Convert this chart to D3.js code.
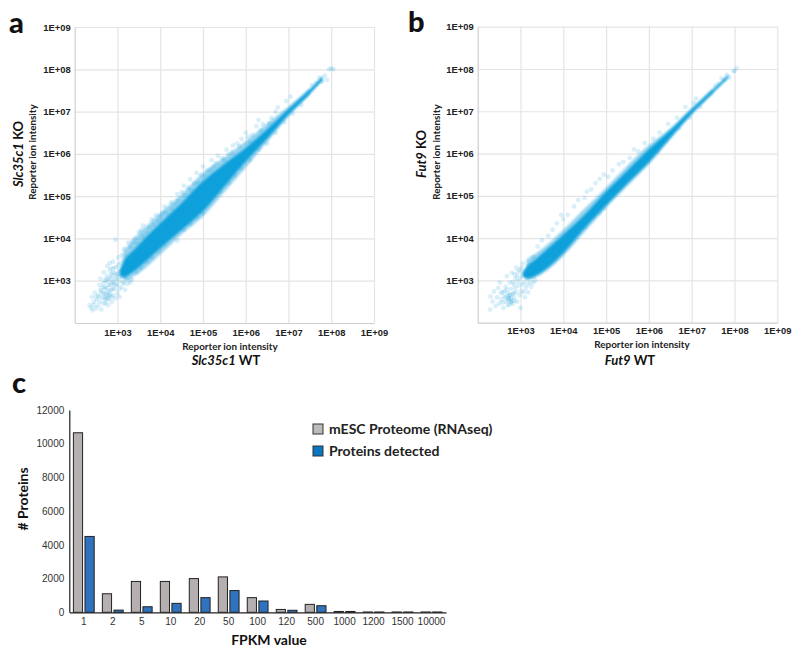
<!DOCTYPE html>
<html>
  <head>
    <title>Reporter ion intensity</title>
    <meta charset="utf-8">
    <style>
      body { margin: 0; background-color: white; }
      svg { display: block; font-family: Lato, sans-serif; }
      .scatter text { font-size: 9.4px; font-weight: 700; fill: #222; }
      .scatter .grid line { stroke: #e4e4e4; stroke-width: 1.2; }
      .scatter .grid path { stroke: none; }
      .scatter .frame path { stroke: #cfcfcf; stroke-width: 1.2; fill: none; }
      .scatter .frame line { stroke: none; }
      .scatter text.title { font-size: 13px; font-weight: 700; fill: #111; }
      .scatter text.sub { font-size: 9.9px; font-weight: 700; fill: #222; }
      .letter { font-size: 29px; font-weight: 900; fill: #111; }
      .bars .axis text { font-size: 10px; fill: #333; }
      .bars .axis path { stroke: #222; stroke-width: 1.2; }
      .bars .axis line { stroke: none; }
      .legend { font-size: 14px; font-weight: 700; fill: #222; }
      .barTitle { font-size: 14px; font-weight: 700; fill: #111; }
    </style>
  </head>
  <body>
  <svg id="chart" width="800" height="656"></svg>
  <script src="https://d3js.org/d3.v7.min.js"></script>
  <script>
  // scatter values are log10 intensities
  var exponents = [3, 4, 5, 6, 7, 8, 9];

  // dense core of each cloud: [log x, upper log y, lower log y]
  var coreA = [[3.05,3.25,3.12],[3.14,3.45,3.08],[3.375,3.72,3.22],[4,4.36,3.77],[4.5,4.84,4.2],[5,5.35,4.64],[5.5,5.76,5.23],[6,6.14,5.82],[6.5,6.58,6.36],[7,7.06,6.93],[7.5,7.53,7.42],[7.8,7.84,7.74]];
  var coreB = [[3.05,3.2,3.1],[3.15,3.33,3.05],[3.375,3.52,3.13],[4,4.08,3.65],[4.5,4.55,4.24],[5,5.1,4.78],[5.5,5.6,5.3],[6,6.1,5.8],[6.5,6.55,6.38],[7,7.05,6.95],[7.5,7.52,7.44],[7.85,7.86,7.78]];
  // paler fringe around the core, same layout
  var fringeA = [[3.14,3.7,3],[3.375,3.98,3.1],[4,4.6,3.62],[4.5,5.05,4.1],[5,5.55,4.52],[5.5,5.92,5.1],[6,6.3,5.68],[6.5,6.72,6.28],[7,7.12,6.88],[7.5,7.56,7.4]];
  var fringeB = [[3.14,3.5,3],[3.375,3.65,3.08],[4,4.2,3.58],[4.5,4.7,4.15],[5,5.2,4.72],[5.5,5.72,5.24],[6,6.2,5.75],[6.5,6.6,6.34],[7,7.08,6.92],[7.5,7.55,7.42]];

  var pointsA = [
    [2.35,2.42],[2.38,2.36],[2.42,2.3],[2.45,2.5],[2.4,2.62],[2.47,2.72],[2.5,2.35],[2.52,2.55],[2.55,2.42],[2.55,2.66],[2.58,2.9],[2.6,2.5],[2.62,2.74],[2.62,2.32],[2.65,2.6],[2.65,2.85],[2.68,2.45],[2.7,2.7],[2.7,3],[2.72,2.55],[2.72,2.8],[2.75,2.62],[2.75,3.1],[2.78,2.42],[2.78,2.72],[2.8,2.9],[2.8,2.56],[2.82,3.25],[2.83,2.66],[2.85,2.78],[2.85,3.05],[2.87,2.5],[2.88,2.95],[2.9,2.65],[2.9,3.2],[2.9,3.45],[2.93,2.8],[2.95,3.05],[2.95,2.58],[2.97,3.32],[3,2.9],[3,2.7],[3,3.15],[3.02,3.55],[3.05,3],[3.05,2.62],[3.08,3.25],[3.1,2.85],[3.1,3.6],[3.12,3.1],[3.15,2.95],[3.15,3.75],[3.18,2.78],[3.2,3.05],[3.22,2.92],[3.25,3.9],[2.95,3.97],[2.76,3.35],[2.68,3.2],[2.6,3.05],[2.74,2.68],[2.7,2.6],[2.78,2.58],[2.66,2.7],[2.72,2.48],[2.82,2.76],[2.76,2.84],[2.86,2.62],[2.8,3.05],[2.92,2.92],[2.84,3.15],[2.98,3.12],[3.04,3.2],[2.92,3.3],
    [2.82,3.42],[2.88,3.12],[2.94,3.18],[2.9,2.98],[2.96,2.9],[2.84,2.9],[2.78,2.98],[2.86,3.3],[2.7,2.84],[2.58,2.62],[2.5,2.62],[2.44,2.42],[2.6,2.78],[3.02,3.38],[3.08,3.42],[3.14,3.5],[3.2,3.58],[3.05,2.8],[3.12,2.95],[3.25,3],[3.3,2.95],[3.34,3.02],[2.68,2.94],[2.74,3.02],[3.06,3.1],[2.98,3.02],[2.9,2.82],[2.8,2.66],
    [3.3,3.8],[3.4,4],[3.5,4.15],[3.6,4.05],[3.6,4.3],[3.75,4.25],[3.8,4.45],[3.9,4.55],[3.95,4.4],[4.05,4.6],[4.1,4.75],[4.2,4.55],[4.25,4.85],[4.35,4.8],[4.4,5.05],[4.5,5.1],[4.55,5.25],[4.65,5.2],[4.7,5.4],[4.8,5.3],[4.85,5.55],[4.95,5.5],[5,5.7],[5.1,5.6],[5.2,5.85],[5.25,5.7],[5.35,5.95],[5.45,5.9],[5.55,6.1],[5.6,6],[5.7,6.2],[5.8,6.25],[5.9,6.35],[6,6.5],[6.05,6.4],[6.15,6.45],[6.25,6.65],[6.3,6.8],[6.4,6.7],[6.6,6.85],[6.7,7],[6.75,7.1],[6.95,7.25],[7.05,7.35],
    [3.35,3.92],[3.45,3.88],[3.55,4.2],[3.7,4.12],[3.85,4.32],[4,4.52],[4.12,4.62],[4.28,4.7],[4.42,4.88],[4.58,5.02],[4.72,5.15],[4.88,5.32],[5.05,5.48],[5.18,5.62],[5.3,5.78],[5.5,5.85],[5.68,6.05],[5.85,6.18],[6.1,6.28],[6.35,6.55],[6.55,6.72],
    [3.3,3.05],[3.45,3.2],[3.55,3.3],[3.7,3.45],[3.8,3.55],[3.95,3.7],[4.1,3.85],[4.3,4.05],[4.4,3.95],[4.55,4.2],[4.7,4.35],[4.85,4.5],[5,4.6],[5.1,4.85],[5.25,5],[5.4,5.1],[5.6,5.3],[5.75,5.5],[5.9,5.65],[6.1,5.85],[6.3,6.1],[6.5,6.25],[6.7,6.5],[6.9,6.75],[7.1,6.95],[7.3,7.15],
    [7.55,7.62],[7.65,7.68],[7.72,7.8],[7.78,7.7],[7.85,7.85],[7.9,7.75],[7.95,8],[8,8.02],[8.05,8]
  ];
  var pointsB = [
    [2.29,2.31],[2.3,2.62],[2.35,2.5],[2.38,2.74],[2.42,2.4],[2.45,2.6],[2.48,2.82],[2.5,2.45],[2.52,2.95],[2.55,2.55],[2.58,2.72],[2.6,2.35],[2.62,2.62],[2.65,2.85],[2.65,2.5],[2.68,3.1],[2.7,2.7],[2.7,2.42],[2.72,2.58],[2.75,2.95],[2.75,2.65],[2.76,2.5],[2.78,2.8],[2.78,2.58],[2.8,3.18],[2.82,2.68],[2.82,2.45],[2.85,2.9],[2.85,2.6],[2.88,3.05],[2.9,2.72],[2.9,3.3],[2.92,2.5],[2.95,2.88],[2.95,3.2],[2.98,2.65],[3,3.05],[3,2.35],[3.02,2.75],[3.05,3.4],[3.08,2.95],[3.1,2.6],[3.1,3.2],[3.12,2.82],[3.15,3.05],[3.18,2.72],[3.2,3.35],[3.22,2.95],[3.25,2.85],[2.74,2.55],[2.72,2.62],[2.8,2.52],[2.76,2.66],[2.7,2.54],[2.84,2.7],[2.78,2.48],[2.66,2.6],[2.86,3.15],
    [2.92,3.1],[2.98,3.25],[3.04,2.9],[2.88,2.82],[2.94,2.98],[3.06,3.12],[3.16,3.22],[3.24,3.08],[3.3,2.95],[3.34,3],[3.16,2.9],[2.62,2.74],[2.54,2.7],[2.68,2.78],[2.82,2.96],[2.86,2.52],[2.74,2.42],[2.58,2.48],[3.08,2.72],[3.02,3.3],
    [3.3,3.55],[3.4,3.8],[3.5,3.95],[3.65,4.05],[3.75,4.2],[3.85,4.35],[3.95,4.55],[4,4.45],[4.1,4.55],[4.25,4.75],[4.35,4.9],[4.5,4.95],[4.55,5.1],[4.65,5.15],[4.75,5.3],[4.85,5.4],[4.95,5.5],[5.05,5.45],[5.15,5.6],[5.3,5.75],[5.4,5.8],[5.55,5.9],[5.65,6.1],[5.75,6.05],[5.9,6.25],[6.1,6.35],[6.25,6.5],[6.45,6.7],[6.65,6.85],[6.85,7.1],[7.05,7.2],[7.1,7.3],
    [3.3,3.1],[3.4,3.2],[3.55,3.35],[3.7,3.5],[3.85,3.65],[4,3.7],[4.15,3.95],[4.35,4.15],[4.5,4.25],[4.7,4.5],[4.85,4.6],[4.95,4.7],[5.1,5],[5.3,5.2],[5.5,5.4],[5.7,5.6],[5.95,5.8],[6.2,6.05],[6.4,6.3],[6.7,6.6],[6.95,6.85],[7.2,7.1],
    [7.55,7.6],[7.62,7.65],[7.7,7.78],[7.76,7.74],[7.82,7.86],[7.88,7.8],[7.98,7.95],[8,7.95],[8.05,8.02]
  ];

  var categories = ["1","2","5","10","20","50","100","120","500","1000","1200","1500","10000"];
  var rnaseq = [10650,1100,1830,1830,2000,2100,870,170,470,50,20,20,20];
  var detected = [4500,130,330,530,870,1290,670,120,390,50,20,20,20];
  var countTicks = [0,2000,4000,6000,8000,10000,12000];

  var svg = d3.select("#chart");

  var defs = svg.append("defs");
  defs.append("filter").attr("id", "soft")
    .attr("x", "-10%").attr("y", "-10%").attr("width", "120%").attr("height", "120%")
    .append("feGaussianBlur").attr("stdDeviation", 1);

  function label(g, italic, rest, cls) {
    var t = g.append("text").attr("class", cls).attr("text-anchor", "middle");
    t.append("tspan").style("font-style", "italic").text(italic);
    t.append("tspan").text(rest);
    return t;
  }

  function scatter(o) {
    var x = d3.scaleLinear().domain([2, 9]).range([o.left, o.right]);
    var y = d3.scaleLinear().domain([2, 9]).range([o.bottom, o.top]);
    var fmt = function(d) { return "1E+0" + d; };
    var g = svg.append("g").attr("class", "scatter");

    g.append("g").attr("class", "grid")
      .attr("transform", "translate(0," + o.bottom + ")")
      .call(d3.axisBottom(x).tickValues(exponents).tickSize(o.top - o.bottom).tickFormat(""));
    g.append("g").attr("class", "grid")
      .attr("transform", "translate(" + o.left + ",0)")
      .call(d3.axisLeft(y).tickValues(exponents).tickSize(o.left - o.right).tickFormat(""));

    g.append("g").attr("class", "frame")
      .attr("transform", "translate(0," + o.bottom + ")")
      .call(d3.axisBottom(x).tickValues(exponents).tickSize(0).tickPadding(o.xPad).tickFormat(fmt));
    g.append("g").attr("class", "frame")
      .attr("transform", "translate(" + o.left + ",0)")
      .call(d3.axisLeft(y).tickValues(exponents).tickSize(0).tickPadding(4).tickFormat(fmt));

    var band = d3.area().curve(d3.curveMonotoneX)
      .x(function(d) { return x(d[0]); })
      .y0(function(d) { return y(d[2]); })
      .y1(function(d) { return y(d[1]); });

    g.append("path").datum(o.fringe).attr("d", band)
      .attr("fill", "#2aa6de").attr("opacity", 0.5).attr("filter", "url(#soft)");
    g.append("path").datum(o.core).attr("d", band)
      .attr("fill", "#10a0da").attr("filter", "url(#soft)");

    g.selectAll("circle").data(o.points).enter().append("circle")
      .attr("cx", function(d) { return x(d[0]); })
      .attr("cy", function(d) { return y(d[1]); })
      .attr("r", 2.4)
      .attr("fill", "#2aa6de")
      .attr("opacity", 0.18);

    label(g, o.gene, " KO", "title")
      .attr("transform", "translate(" + o.koX + ",154) rotate(-90)");
    g.append("text").attr("class", "sub").attr("text-anchor", "middle")
      .attr("transform", "translate(" + o.subX + ",152) rotate(-90)")
      .text("Reporter ion intensity");
    g.append("text").attr("class", "sub").attr("text-anchor", "middle")
      .attr("x", o.subCx).attr("y", o.subY).text("Reporter ion intensity");
    label(g, o.gene, " WT", "title").attr("x", o.wtCx).attr("y", 365);
  }

  scatter({
    left: 74.7, right: 374, top: 27, bottom: 323, xPad: 6,
    core: coreA, fringe: fringeA, points: pointsA, gene: "Slc35c1",
    koX: 23, subX: 36, subCx: 230, subY: 349.5, wtCx: 226
  });
  scatter({
    left: 477.7, right: 777.3, top: 26.7, bottom: 322.7, xPad: 5,
    core: coreB, fringe: fringeB, points: pointsB, gene: "Fut9",
    koX: 426, subX: 440, subCx: 642, subY: 348, wtCx: 630
  });

  svg.append("text").attr("class", "letter").attr("x", 9).attr("y", 33).text("a");
  svg.append("text").attr("class", "letter").attr("x", 408).attr("y", 32).text("b");
  svg.append("text").attr("class", "letter").attr("x", 12).attr("y", 393).text("c");

  // bar chart
  var bx = d3.scaleBand().domain(categories).range([69.3, 446]);
  var by = d3.scaleLinear().domain([0, 12000]).range([612.3, 410]);
  var bars = svg.append("g").attr("class", "bars");

  bars.append("g").attr("class", "axis")
    .attr("transform", "translate(69.3,0)")
    .call(d3.axisLeft(by).tickValues(countTicks).tickSize(0).tickPadding(5).tickFormat(d3.format("d")));
  bars.append("g").attr("class", "axis")
    .attr("transform", "translate(0,612.3)")
    .call(d3.axisBottom(bx).tickSize(0).tickPadding(6));

  var barWidth = 9.2;
  [[rnaseq, "#b5afaf", -10.4], [detected, "#2f72bd", 1.2]].forEach(function(s) {
    bars.append("g").selectAll("rect").data(s[0]).enter().append("rect")
      .attr("x", function(d, i) { return bx(categories[i]) + bx.bandwidth() / 2 + s[2]; })
      .attr("y", function(d) { return by(d); })
      .attr("width", barWidth)
      .attr("height", function(d) { return by(0) - by(d); })
      .attr("fill", s[1])
      .attr("stroke", "#222")
      .attr("stroke-width", 1);
  });

  svg.append("text").attr("class", "barTitle").attr("text-anchor", "middle")
    .attr("x", 269).attr("y", 645).text("FPKM value");
  svg.append("text").attr("class", "barTitle").attr("text-anchor", "middle")
    .attr("transform", "translate(28,499) rotate(-90)").text("# Proteins");

  var legendNames = ["mESC Proteome (RNAseq)", "Proteins detected"];
  var legendColors = ["#bdbaba", "#0b76c0"];
  var legendRow = d3.scalePoint().domain(legendNames).range([429, 451]);
  legendNames.forEach(function(name, i) {
    svg.append("rect")
      .attr("x", 313).attr("y", legendRow(name) - 5)
      .attr("width", 10).attr("height", 10)
      .attr("fill", legendColors[i]).attr("stroke", "#333").attr("stroke-width", 1);
    svg.append("text").attr("class", "legend")
      .attr("x", 329).attr("y", legendRow(name) + 5).text(name);
  });
  </script>
  </body>
</html>
